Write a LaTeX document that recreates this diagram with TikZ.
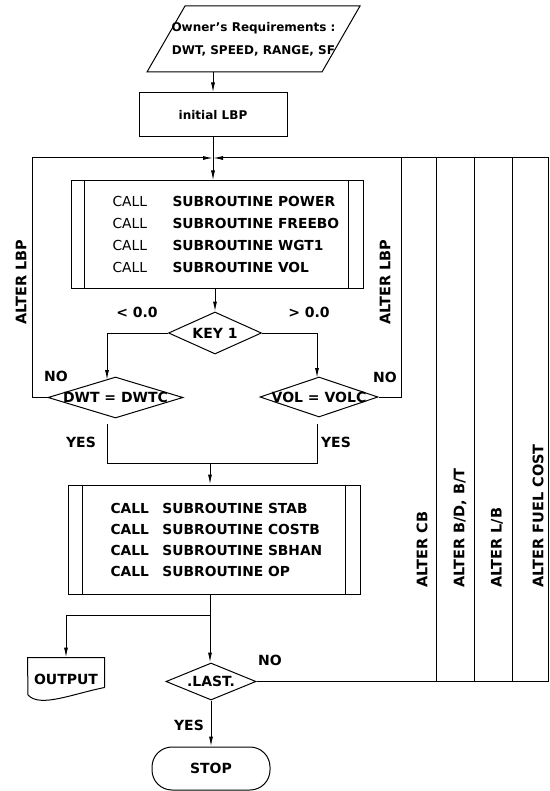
\documentclass[tikz,border=0pt]{standalone}
\usepackage{fontspec}
\setmainfont{DejaVu Sans}
\usetikzlibrary{shapes.geometric,arrows.meta}
\begin{document}
\begin{tikzpicture}[x=1pt,y=-1pt,
  line width=1pt,
  arr/.style={-{Latex[length=10pt,width=4pt]}},
  box/.style={draw, rectangle, inner sep=0pt},
  dia/.style={draw, diamond, inner sep=0pt},
  lbl/.style={font=\fontsize{14}{14}\selectfont\bfseries, inner sep=0pt},
  alt/.style={font=\fontsize{14.5}{14.5}\selectfont\bfseries, inner sep=0pt, rotate=90, anchor=west},
  code/.style={align=left, anchor=west, inner sep=0pt},
]
\useasboundingbox (0,0) rectangle (549,791);

% --- nodes ---
\node[font=\fontsize{12}{23}\selectfont\bfseries, align=center, inner sep=0pt] (req) at (253.5,39) {Owner's Requirements :\\DWT, SPEED, RANGE, SF};
\coordinate (reqb) at (213,72);
\node[box, minimum width=148, minimum height=44, font=\fontsize{12}{12}\selectfont\bfseries] (lbp) at (213,115) {initial LBP};
\coordinate (jtop) at (213,158);

\node[box, minimum width=292, minimum height=107] (b1) at (217,234.5) {};
\node[code, font=\fontsize{13.8}{21.7}\selectfont] (c1) at (112,234.5)
  {\makebox[60pt][l]{CALL}\textbf{SUBROUTINE POWER}\\
   \makebox[60pt][l]{CALL}\textbf{SUBROUTINE FREEBO}\\
   \makebox[60pt][l]{CALL}\textbf{SUBROUTINE WGT1}\\
   \makebox[60pt][l]{CALL}\textbf{SUBROUTINE VOL}};

\node[dia, minimum width=93, minimum height=42] (key) at (215,333) {};
\node[lbl] (keyt) at (key) {KEY 1};
\node[lbl] (lt) at (137,312) {< 0.0};
\node[lbl] (gt) at (309,312) {> 0.0};

\node[dia, minimum width=135, minimum height=41] (dwt) at (115.5,397.5) {};
\node[lbl] (dwtt) at (dwt) {DWT = DWTC};
\node[dia, minimum width=118, minimum height=40] (vol) at (319,397) {};
\node[lbl] (volt) at (vol) {VOL = VOLC};
\coordinate (dwtin) at (107,380);
\coordinate (volin) at (317,378);
\coordinate (dwtout) at (107,424);
\coordinate (volout) at (317,424);
\coordinate (jmid) at (210,463.5);

\node[lbl] (no1) at (56,376) {NO};
\node[lbl] (no2) at (385,377) {NO};
\node[lbl] (yes1) at (81,442) {YES};
\node[lbl] (yes2) at (336,442) {YES};

\node[alt] (alb1) at (21,325) {ALTER LBP};
\node[alt] (alb2) at (385,325) {ALTER LBP};
\node[alt] (acb) at (422,588) {ALTER CB};
\node[alt] (abd) at (460,588) {ALTER B/D, B/T};
\node[alt] (alb) at (497,588) {ALTER L/B};
\node[alt] (afc) at (538,588) {ALTER FUEL COST};

\node[box, minimum width=292, minimum height=109] (b2) at (214,539.5) {};
\node[code, font=\fontsize{13.8}{21.3}\selectfont\bfseries] (c2) at (110,540)
  {\makebox[52pt][l]{CALL}SUBROUTINE STAB\\
   \makebox[52pt][l]{CALL}SUBROUTINE COSTB\\
   \makebox[52pt][l]{CALL}SUBROUTINE SBHAN\\
   \makebox[52pt][l]{CALL}SUBROUTINE OP};
\coordinate (jbot) at (210,615);

\node[inner sep=0pt, minimum width=76, minimum height=29] (out) at (66,672.5) {};
\node[lbl] (outt) at (66,679) {OUTPUT};
\node[dia, minimum width=90, minimum height=37] (last) at (211,681.5) {};
\node[lbl] (lastt) at (last) {.LAST.};
\node[lbl] (no3) at (270,660) {NO};
\node[lbl] (yes3) at (189,725) {YES};
\node[draw, rounded corners=20pt, minimum width=118, minimum height=43, lbl] (stop) at (211,768.5) {STOP};

% --- shapes ---
\draw (147,72) -- (185,6) -- (360,6) -- (322,72) -- cycle;
\draw ([xshift=14pt]b1.north west) -- ([xshift=14pt]b1.south west);
\draw ([xshift=-15pt]b1.north east) -- ([xshift=-15pt]b1.south east);
\draw ([xshift=15pt]b2.north west) -- ([xshift=15pt]b2.south west);
\draw ([xshift=-15pt]b2.north east) -- ([xshift=-15pt]b2.south east);
\draw (out.south east) -- (out.north east) -- (out.north west) -- (28,695)
      .. controls (40,708) and (72,694) .. (out.south east);

% --- connectors ---
\draw[arr] (reqb) -- (lbp.north);
\draw (lbp.south) -- (jtop);
\draw[arr] (jtop) -- (jtop |- b1.north);
\draw[arr] (b1.south -| key) -- (key.north);
\draw[arr] (key.west) -| (dwtin);
\draw[arr] (key.east) -| (volin);
\draw[arr] (dwt.west) -| (32,158) -- (jtop);
\draw (vol.east) -| (401,158);
\foreach \xx in {436,474,512} \draw (\xx,681.5) -- (\xx,158);
\draw[arr] (last.east) -- (548,681.5) -- (548,158) -- (jtop);
\draw (dwtout) |- (jmid) -| (volout);
\draw[arr] (jmid) -- (jmid |- b2.north);
\draw (jbot |- b2.south) -- (jbot);
\draw[arr] (jbot) -| (out.north);
\draw[arr] (jbot) -- (jbot |- last.north);
\draw[arr] (last.south) -- (stop.north);
\end{tikzpicture}
\end{document}
